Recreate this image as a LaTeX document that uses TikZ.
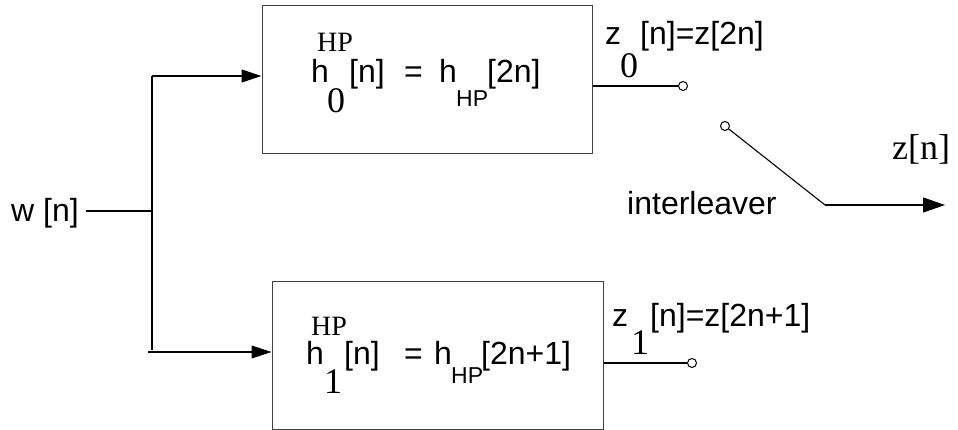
\documentclass[tikz,border=0pt]{standalone}
\usepackage{fontspec}
\setmainfont{Liberation Serif}
\newfontfamily\ars{Liberation Sans}
\newfontfamily\tms{Liberation Serif}
\usetikzlibrary{arrows.meta}
\begin{document}
\begin{tikzpicture}[x=1pt,y=-1pt,
  txt/.style={inner sep=0pt,anchor=base west,font=\ars\fontsize{32}{38}\selectfont},
  subs/.style={inner sep=0pt,anchor=base west,font=\ars\fontsize{23}{27}\selectfont},
  sup/.style={inner sep=0pt,anchor=base west,font=\tms\fontsize{28}{32}\selectfont},
  dig/.style={inner sep=0pt,anchor=base west,font=\tms\fontsize{36}{40}\selectfont},
  blk/.style={draw=black!75,line width=1pt,inner sep=0pt},
  wire/.style={draw=black,line width=1.1pt},
  arr/.style={wire,-{Triangle[length=20pt,width=13pt]}},
  port/.style={circle,draw=black,line width=1pt,fill=white,minimum size=9pt,inner sep=0pt}]
\useasboundingbox (0,0) rectangle (958,430);
% blocks
\node[blk,minimum width=330pt,minimum height=148pt] (top) at (427,80) {};
\node[blk,minimum width=331pt,minimum height=147pt] (bot) at (437.5,355.5) {};
% input
\node[txt] (w) at (11,222) {w [n]};
\coordinate (J) at (152,211);
\coordinate (T) at (152,76);
\coordinate (B) at (152,350);
\coordinate (B0) at (148,352);
\draw[wire] (86,211) -- (J);
\draw[wire] (T) -- (B);
\draw[arr] (T) -- (T -| top.west);
\draw[arr] (B0) -- (B0 -| bot.west);
% top block text
\node[sup] (tHP) at (317,52) {HP};
\node[txt] (th) at (311,83) {h};
\node[dig] (t0) at (327,113) {0};
\node[txt] (tn) at (349,83) {[n]};
\node[txt] (teq) at (404,83) {=};
\node[txt] (th2) at (439,83) {h};
\node[subs] (tsub) at (456,107) {HP};
\node[txt] (t2n) at (487,83) {[2n]};
% bottom block text
\node[sup] (bHP) at (311,335) {HP};
\node[txt] (bh) at (306,364) {h};
\node[dig] (b1) at (324,393) {1};
\node[txt] (bn) at (344,364) {[n]};
\node[txt] (beq) at (404,364) {=};
\node[txt] (bh2) at (434,364) {h};
\node[subs] (bsub) at (451,383) {HP};
\node[txt] (b2n) at (481,364) {[2n+1]};
% outputs
\node[port] (c0) at (683,86) {};
\node[port] (c1) at (692,363) {};
\draw[wire] (c0 -| top.east) -- (c0);
\draw[wire] (c1 -| bot.east) -- (c1);
\node[txt] (z0) at (605,45) {z};
\node[dig] (z0s) at (620,78) {0};
\node[txt] (z0r) at (640,45) {[n]=z[2n]};
\node[txt] (z1) at (612,326) {z};
\node[dig] (z1s) at (631,354) {1};
\node[txt] (z1r) at (650,326) {[n]=z[2n+1]};
% interleaver switch
\node[port] (cs) at (725,126) {};
\coordinate (P) at (825,205);
\coordinate (E) at (945,205);
\draw[wire] (cs) -- (P);
\draw[wire,-{Triangle[length=22pt,width=15pt]}] (P) -- (E);
\node[txt] (il) at (627,215) {interleaver};
\node[dig] (zn) at (892,160) {z[n]};
\end{tikzpicture}
\end{document}
